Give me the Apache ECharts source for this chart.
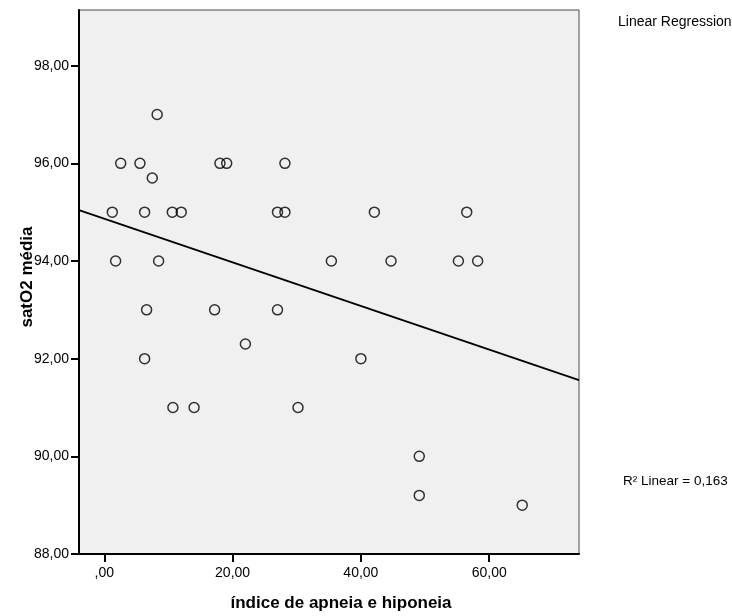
<!DOCTYPE html>
<html>
<head>
<meta charset="utf-8">
<script src="https://cdn.jsdelivr.net/npm/echarts@6/dist/echarts.min.js"></script>
<style>
  html, body { margin: 0; padding: 0; background: #fff; }
  #chart { width: 732px; height: 616px; }
</style>
</head>
<body>
<div id="chart"></div>
<script>
// índice de apneia e hiponeia (x) vs satO2 média (y)
const iahValues = [
  8.24, 2.56, 5.56, 7.48, 18.03, 19.08, 28.16,
  1.25, 6.29, 10.6, 12.0, 27.0, 28.16, 42.1, 56.5,
  1.77, 8.47, 35.4, 44.7, 55.2, 58.2,
  6.6, 17.2, 27.0, 22.0, 6.29, 40.0,
  10.7, 14.0, 30.2, 49.1, 49.1, 65.15
]
const satValues = [
  97, 96, 96, 95.7, 96, 96, 96,
  95, 95, 95, 95, 95, 95, 95, 95,
  94, 94, 94, 94, 94, 94,
  93, 93, 93, 92.3, 92, 92,
  91, 91, 91, 90, 89.2, 89
]
// fit line ends
const fitX = [-3.94, 74]
const fitY = [95.04, 91.56]

const xTicks = [0, 20, 40, 60]
const yTicks = [88, 90, 92, 94, 96, 98]

const fmt = (v) => {
  let s = v.toFixed(2).replace(".", ",")
  if (s.startsWith("0,")) s = s.slice(1)
  return s
}

const font = "Liberation Sans, Arial, sans-serif"
const points = iahValues.map((x, i) => [x, satValues[i]])
const fitLine = fitX.map((x, i) => [x, fitY[i]])

const chart = echarts.init(document.getElementById("chart"))
const option = {
  animation: false,
  backgroundColor: "#ffffff",
  grid: {
    left: 79,
    top: 10,
    width: 500,
    height: 544,
    show: true,
    backgroundColor: "#f0f0f0",
    borderColor: "#4a4a4a",
    borderWidth: 1,
  },
  xAxis: {
    type: "value",
    min: -3.94,
    max: 74,
    splitLine: { show: false },
    axisLine: { show: true, onZero: false, lineStyle: { color: "#000", width: 2 } },
    axisTick: { show: true, length: 8, customValues: xTicks, lineStyle: { color: "#000", width: 2 } },
    axisLabel: {
      customValues: xTicks,
      formatter: fmt,
      color: "#000",
      fontSize: 14,
      fontFamily: font,
      margin: 12,
    },
  },
  yAxis: {
    type: "value",
    min: 88,
    max: 99.14,
    splitLine: { show: false },
    axisLine: { show: true, onZero: false, lineStyle: { color: "#000", width: 2 } },
    axisTick: { show: true, length: 8, customValues: yTicks, lineStyle: { color: "#000", width: 2 } },
    axisLabel: {
      customValues: yTicks,
      formatter: fmt,
      color: "#000",
      fontSize: 14,
      fontFamily: font,
      margin: 10,
    },
  },
  graphic: [
    {
      type: "text",
      x: 341,
      y: 603,
      style: {
        text: "índice de apneia e hiponeia",
        font: "bold 17px " + font,
        fill: "#000",
        textAlign: "center",
        textVerticalAlign: "middle",
      },
    },
    {
      type: "text",
      x: 27,
      y: 277,
      rotation: Math.PI / 2,
      style: {
        text: "satO2 média",
        font: "bold 17px " + font,
        fill: "#000",
        textAlign: "center",
        textVerticalAlign: "middle",
      },
    },
    {
      type: "text",
      x: 618,
      y: 22,
      style: {
        text: "Linear Regression",
        font: "14px " + font,
        fill: "#000",
        textAlign: "left",
        textVerticalAlign: "middle",
      },
    },
    {
      type: "text",
      x: 623,
      y: 481,
      style: {
        text: "R² Linear = 0,163",
        font: "13.5px " + font,
        fill: "#000",
        textAlign: "left",
        textVerticalAlign: "middle",
      },
    },
  ],
  series: [
    {
      type: "line",
      data: fitLine,
      showSymbol: false,
      silent: true,
      lineStyle: { color: "#000", width: 1.8 },
      z: 2,
    },
    {
      type: "scatter",
      data: points,
      symbol: "circle",
      symbolSize: 10,
      itemStyle: { color: "rgba(0,0,0,0)", borderColor: "#000", borderWidth: 1.5 },
      z: 3,
    },
  ],
}
chart.setOption(option)
</script>
</body>
</html>
